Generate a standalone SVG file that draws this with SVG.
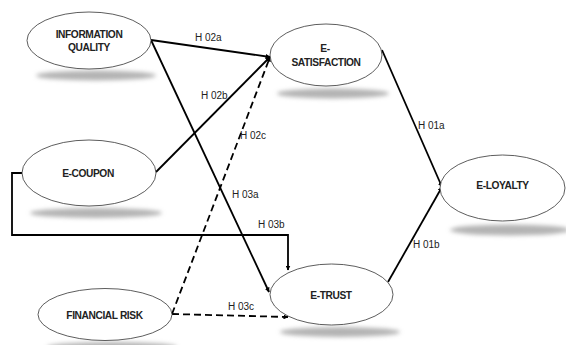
<svg xmlns="http://www.w3.org/2000/svg" width="566" height="345" viewBox="0 0 566 345">
<style>
.node{fill:#fff;stroke:#333;stroke-width:0.8}
.shadow{fill:#b4b4b4;filter:url(#blur)}
.lbl{font-family:"Liberation Sans",Arial,sans-serif;font-weight:bold;font-size:10.2px;letter-spacing:-0.4px;fill:#222;text-anchor:middle}
.hl{font-family:"Liberation Sans",Arial,sans-serif;font-size:10px;fill:#222}
.edge{fill:none;stroke:#000;stroke-width:1.8}
.dash{stroke-dasharray:7,4}
</style>
<defs>
<filter id="blur" x="-20%" y="-100%" width="140%" height="300%"><feGaussianBlur stdDeviation="2"/></filter>
<marker id="arr" viewBox="0 0 10 10" refX="9" refY="5" markerWidth="5" markerHeight="5" orient="auto" markerUnits="userSpaceOnUse"><path d="M0,0 L10,5 L0,10 z" fill="#000"/></marker>
</defs>
<rect width="566" height="345" fill="#fff"/>
<g id="shadows">
<ellipse class="shadow" cx="96" cy="75.5" rx="60" ry="5"/>
<ellipse class="shadow" cx="333" cy="93.5" rx="56" ry="5"/>
<ellipse class="shadow" cx="96" cy="213" rx="66" ry="5"/>
<ellipse class="shadow" cx="112" cy="347" rx="65" ry="5"/>
<ellipse class="shadow" cx="340" cy="332" rx="60" ry="5"/>
<ellipse class="shadow" cx="510" cy="230" rx="60" ry="5.5"/>
</g>
<g id="connectors">
<line class="edge" x1="151" y1="40" x2="270" y2="57" marker-end="url(#arr)"/>
<line class="edge" x1="156" y1="172" x2="270" y2="57" marker-end="url(#arr)"/>
<line class="edge dash" x1="172" y1="314" x2="270" y2="57" marker-end="url(#arr)"/>
<line class="edge" x1="151" y1="40" x2="269" y2="292" marker-end="url(#arr)"/>
<polyline class="edge" points="22,173 12,173 12,235 288,235 288,270" marker-end="url(#arr)"/>
<line class="edge dash" x1="172" y1="314" x2="288" y2="317" marker-end="url(#arr)"/>
<line class="edge" x1="382" y1="50" x2="442" y2="187" marker-end="url(#arr)"/>
<line class="edge" x1="388" y1="282" x2="442" y2="187" marker-end="url(#arr)"/>
<text class="hl" x="195" y="41">H 02a</text>
<text class="hl" x="201" y="99">H 02b</text>
<text class="hl" x="240" y="139">H 02c</text>
<text class="hl" x="232" y="198">H 03a</text>
<text class="hl" x="258" y="228">H 03b</text>
<text class="hl" x="228" y="310">H 03c</text>
<text class="hl" x="418" y="129">H 01a</text>
<text class="hl" x="413" y="248">H 01b</text>
</g>
<g id="information-quality">
<ellipse class="node" cx="89" cy="40.5" rx="62" ry="28.5"/>
<text class="lbl" x="89" y="38">INFORMATION</text>
<text class="lbl" x="89" y="51">QUALITY</text>
</g>
<g id="e-satisfaction">
<ellipse class="node" cx="326" cy="55" rx="56" ry="31"/>
<text class="lbl" x="325" y="52">E-</text>
<text class="lbl" x="326" y="66">SATISFACTION</text>
</g>
<g id="e-coupon">
<ellipse class="node" cx="89" cy="173" rx="67" ry="33"/>
<text class="lbl" x="88" y="177">E-COUPON</text>
</g>
<g id="financial-risk">
<ellipse class="node" cx="105" cy="314.5" rx="67" ry="26"/>
<text class="lbl" x="104.5" y="319">FINANCIAL RISK</text>
</g>
<g id="e-trust">
<ellipse class="node" cx="331.5" cy="294.5" rx="61.5" ry="30.5"/>
<text class="lbl" x="331" y="299">E-TRUST</text>
</g>
<g id="e-loyalty">
<ellipse class="node" cx="502.5" cy="188" rx="62.5" ry="33"/>
<text class="lbl" x="502.5" y="189">E-LOYALTY</text>
</g>
</svg>
